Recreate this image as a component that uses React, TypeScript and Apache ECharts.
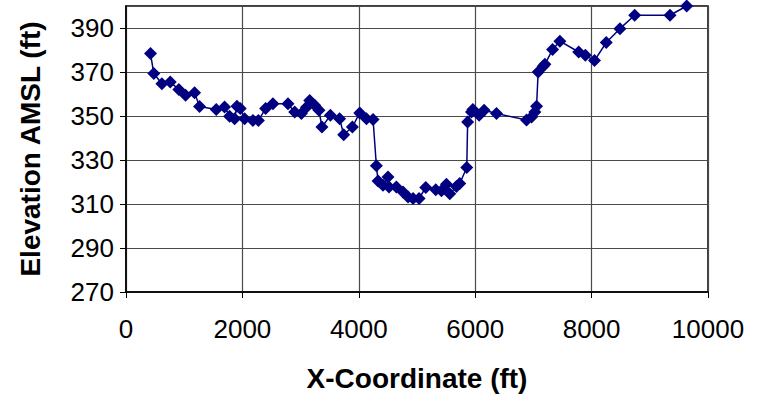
import React, { useEffect, useRef } from "react";
import * as echarts from "echarts";

// Ground profile along the transect: X-coordinate (ft) and elevation above mean sea level (ft)
const xCoord = [
  421, 478, 616, 760, 908, 1023, 1178, 1264, 1551, 1694, 1780, 1866, 1906, 1963,
  2038, 2181, 2275, 2399, 2525, 2783, 2898, 3013, 3100, 3156, 3242, 3316, 3367,
  3512, 3671, 3740, 3890, 4016, 4131, 4245, 4302, 4331, 4416, 4502, 4519, 4646,
  4760, 4846, 4932, 5035, 5150, 5322, 5420, 5506, 5563, 5678, 5735, 5855, 5870,
  5936, 5960, 6067, 6153, 6366, 6882, 6968, 7025, 7054, 7082, 7168, 7197, 7329,
  7455, 7778, 7893, 8050, 8252, 8487, 8740, 9347, 9634,
];
const elevation = [
  378.4, 369.3, 364.7, 365.5, 362.0, 359.4, 360.6, 354.3, 353.0, 354.1, 349.9,
  348.8, 354.4, 353.4, 348.8, 348.0, 348.0, 353.4, 355.6, 355.6, 351.8, 351.1,
  354.0, 357.1, 354.9, 352.6, 345.0, 350.3, 348.8, 341.5, 345.0, 351.4, 348.8,
  348.4, 327.4, 320.5, 318.5, 322.3, 317.7, 317.7, 315.5, 313.2, 312.5, 312.5,
  317.5, 316.5, 316.0, 319.0, 314.7, 318.0, 319.3, 326.6, 347.3, 351.8, 353.0,
  350.3, 352.6, 351.1, 348.2, 349.5, 351.8, 354.4, 370.0, 372.6, 373.5, 380.2,
  384.0, 379.1, 377.6, 375.2, 383.4, 389.7, 395.8, 395.8, 400.0,
];

const xRange = [0, 10000];
const yRange = [270, 400];
const xTitle = "X-Coordinate (ft)";
const yTitle = "Elevation AMSL (ft)";

export default function App() {
  const ref = useRef<HTMLDivElement>(null);

  useEffect(() => {
    if (!ref.current) return;
    document.body.style.margin = "0";
    const chart = echarts.init(ref.current, null, { renderer: "svg" });
    const font = "Arial, 'Liberation Sans', sans-serif";
    const points = xCoord.map((x, i) => [x, elevation[i]]);
    const gridLine = { show: true, lineStyle: { color: "#4a4a4a", width: 1.2 } };

    chart.setOption({
      animation: false,
      backgroundColor: "#ffffff",
      textStyle: { fontFamily: font },
      grid: {
        left: 126,
        right: 50,
        top: 6,
        bottom: 109,
        show: true,
        backgroundColor: "#ffffff",
        borderColor: "#000000",
        borderWidth: 1.5,
      },
      xAxis: {
        type: "value",
        min: xRange[0],
        max: xRange[1],
        interval: 2000,
        name: xTitle,
        nameLocation: "middle",
        nameGap: 72,
        nameTextStyle: { fontFamily: font, fontSize: 28, fontWeight: "bold", color: "#000" },
        axisLine: { show: true, onZero: false, lineStyle: { color: "#000", width: 1.5 } },
        axisTick: { show: true, inside: false, length: 6, lineStyle: { color: "#000" } },
        axisLabel: {
          fontFamily: font,
          fontSize: 26,
          color: "#000",
          margin: 24,
          formatter: (v: number) => String(v),
        },
        splitLine: gridLine,
      },
      yAxis: {
        type: "value",
        min: yRange[0],
        max: yRange[1],
        interval: 20,
        name: yTitle,
        nameLocation: "middle",
        nameGap: 82,
        nameRotate: 90,
        nameTextStyle: { fontFamily: font, fontSize: 28, fontWeight: "bold", color: "#000" },
        axisLine: { show: true, onZero: false, lineStyle: { color: "#000", width: 1.5 } },
        axisTick: { show: true, inside: false, length: 6, lineStyle: { color: "#000" } },
        axisLabel: { fontFamily: font, fontSize: 26, color: "#000", margin: 12, showMaxLabel: false },
        splitLine: gridLine,
      },
      series: [
        {
          type: "line",
          data: points,
          symbol: "diamond",
          symbolSize: 13,
          clip: false,
          z: 3,
          itemStyle: { color: "#000080" },
          lineStyle: { color: "#000080", width: 1.5 },
        },
      ],
    });

    return () => chart.dispose();
  }, []);

  return (
    <div
      ref={ref}
      style={{ position: "absolute", left: 0, top: 0, width: 758, height: 401 }}
    />
  );
}
